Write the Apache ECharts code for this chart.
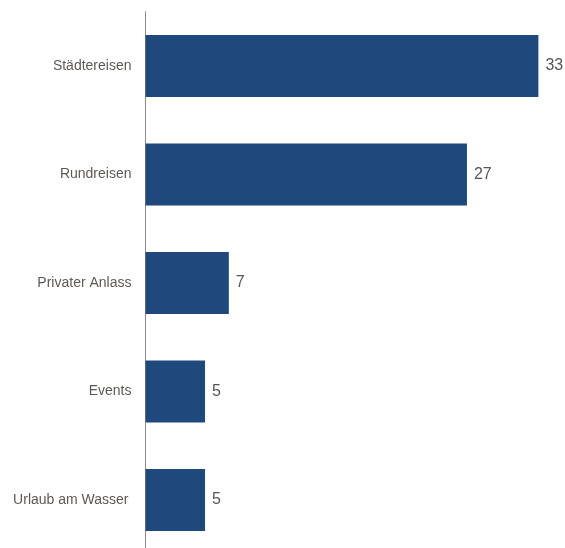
<!DOCTYPE html>
<html>
<head>
<meta charset="utf-8">
<script src="https://cdn.jsdelivr.net/npm/echarts@6/dist/echarts.min.js"></script>
<style>html,body{margin:0;padding:0;background:#fff;overflow:hidden}#c{width:565px;height:555px}</style>
</head>
<body>
<div id="c"></div>
<script>
const categories = ['Städtereisen', 'Rundreisen', 'Privater Anlass', 'Events', 'Urlaub am Wasser'];
const values = [33, 27, 7, 5, 5];

const chart = echarts.init(document.getElementById('c'), null, {renderer: 'canvas'});
chart.setOption({
  animation: false,
  grid: {left: 145.5, right: 2.8, top: 11.75, bottom: 0.75, containLabel: false},
  xAxis: {type: 'value', min: 0, max: 35, show: false},
  yAxis: {
    type: 'category', inverse: true,
    data: categories.map((c, i) => i === categories.length - 1 ? {value: c, textStyle: {padding: [0, 3, 0, 0]}} : c),
    axisLine: {show: true, lineStyle: {color: '#8c8c8c', width: 1}},
    axisTick: {show: false},
    axisLabel: {color: '#5e5955', fontFamily: 'Liberation Sans, Arial, sans-serif', fontSize: 14, margin: 14}
  },
  series: [{
    type: 'bar', data: values, barWidth: '57%',
    itemStyle: {color: '#1f487c'},
    label: {show: true, position: 'right', distance: 7, color: '#555555', fontFamily: 'Liberation Sans, Arial, sans-serif', fontSize: 16}
  }]
});
</script>
</body>
</html>
